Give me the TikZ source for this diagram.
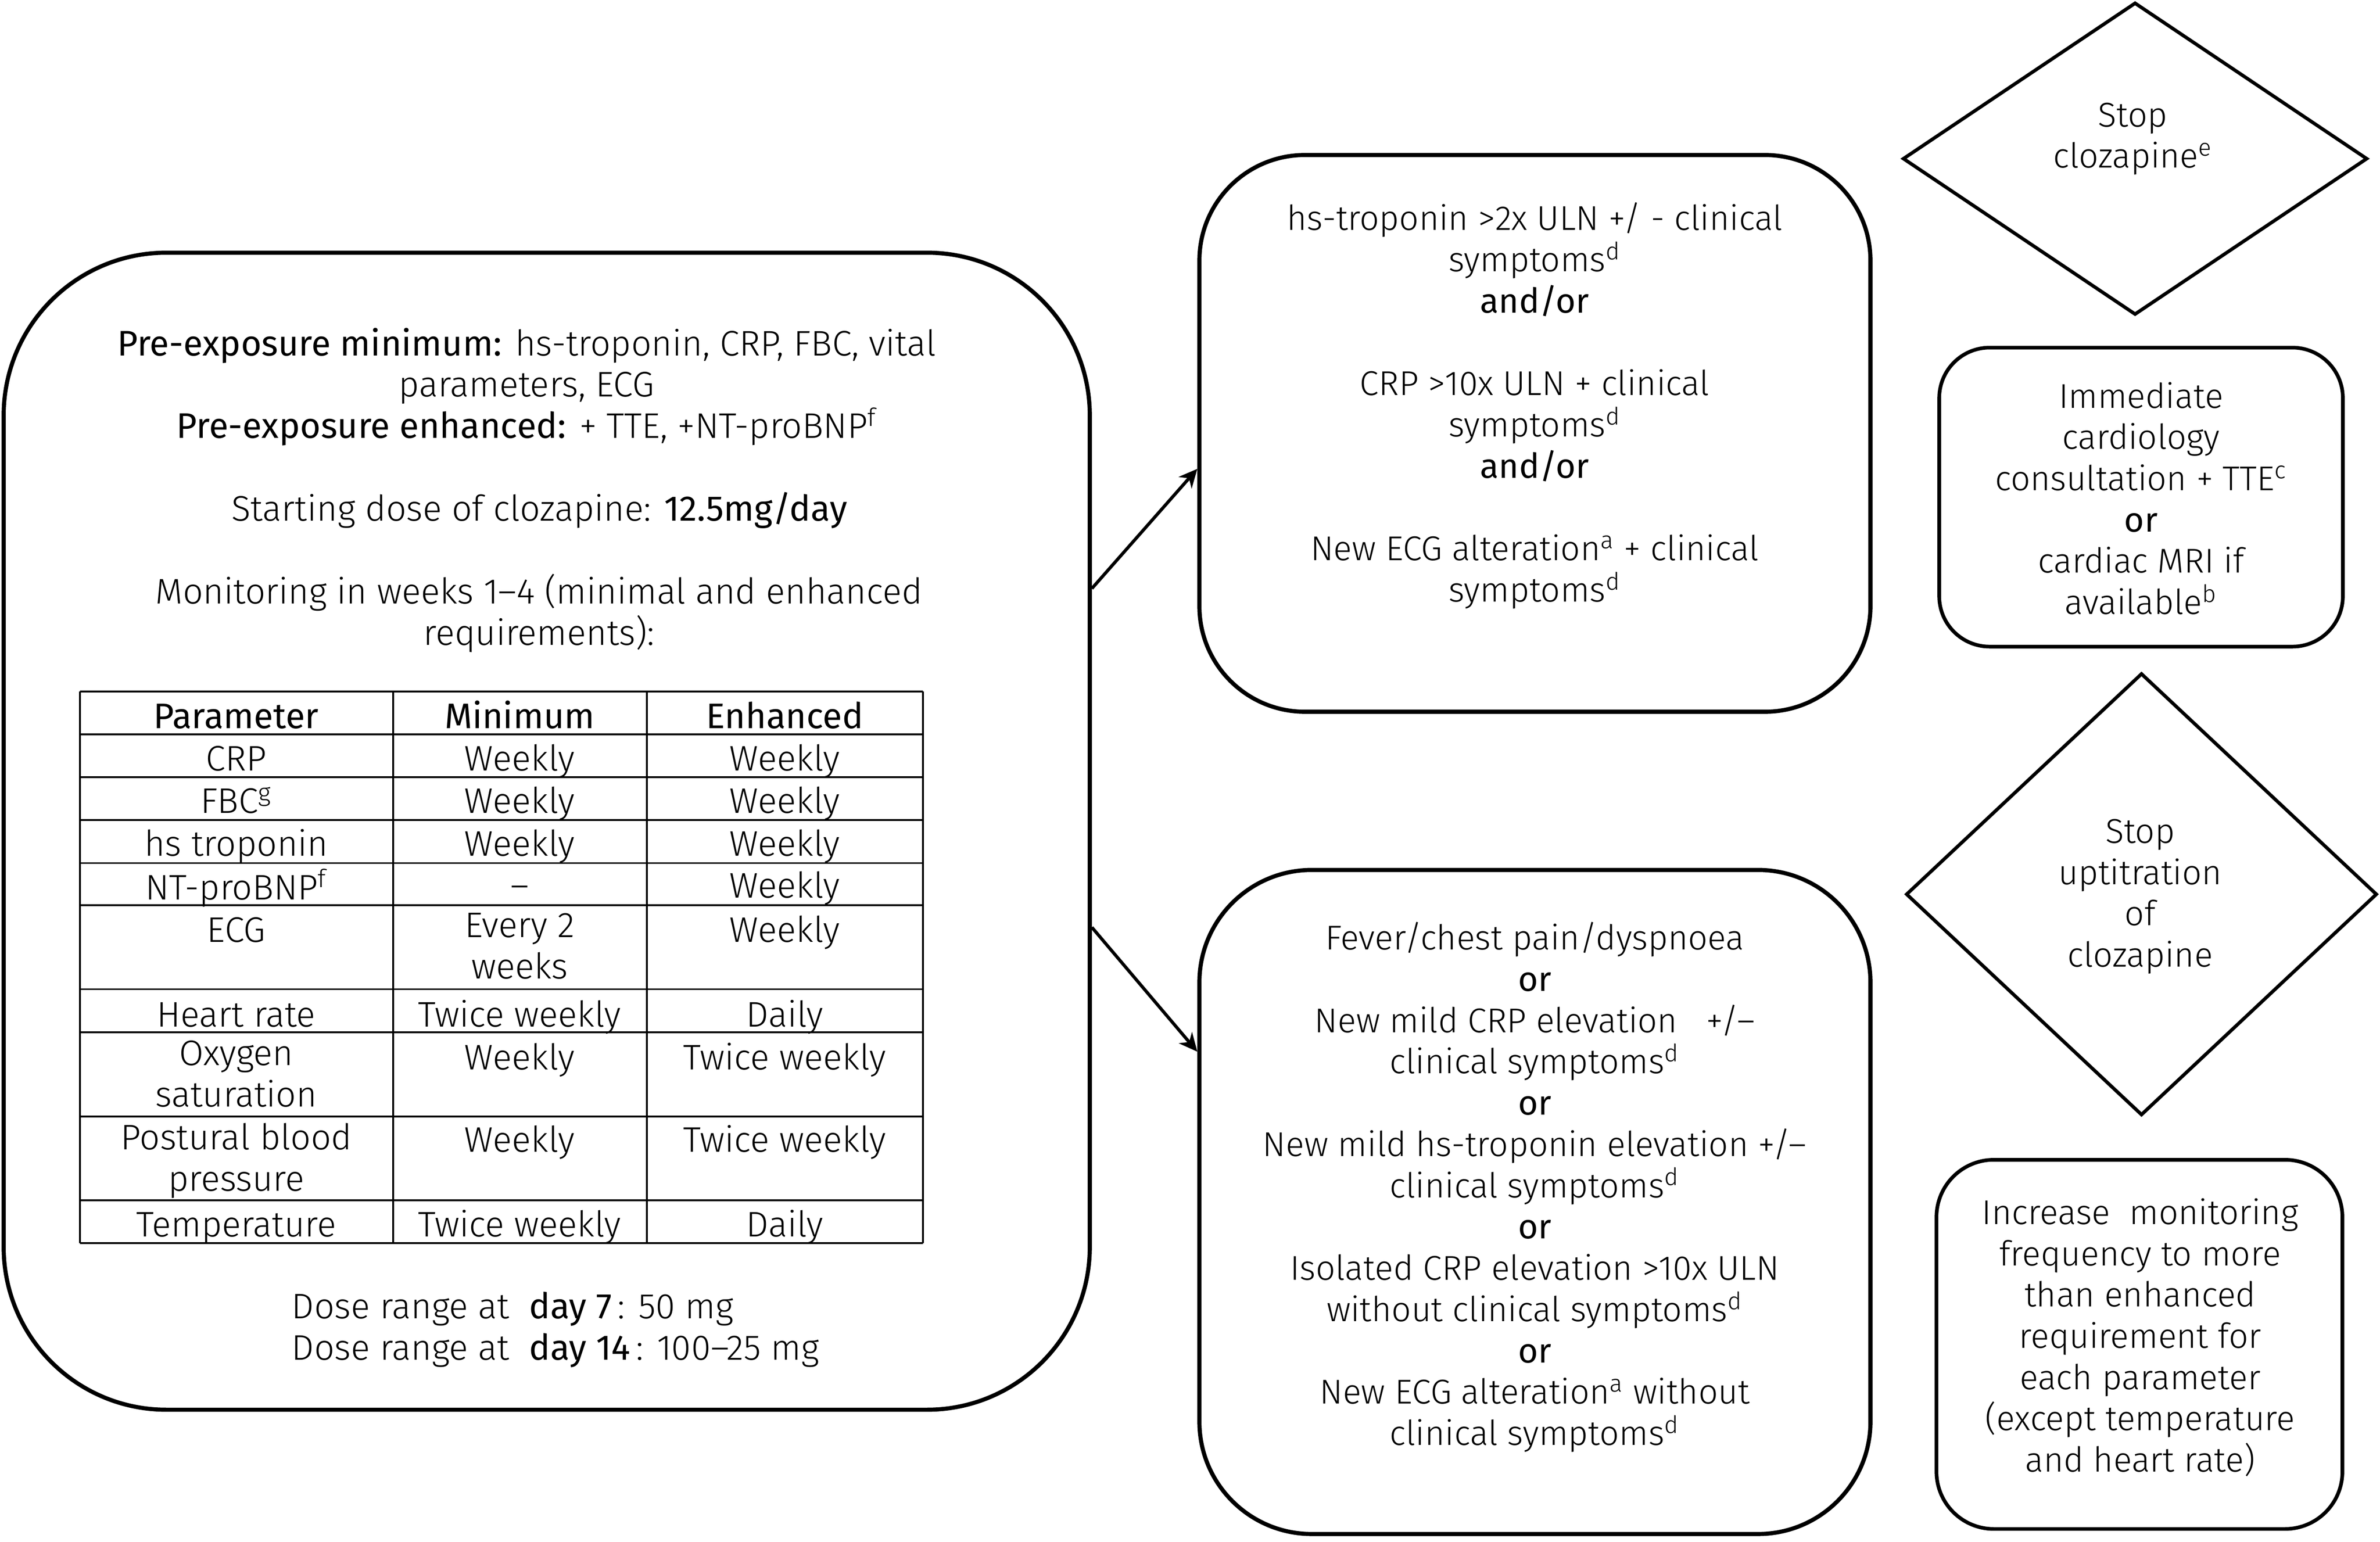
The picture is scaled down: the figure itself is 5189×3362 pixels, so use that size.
\documentclass[tikz,border=0pt]{standalone}
\usepackage{fontspec}
\setmainfont{Fira Sans}[UprightFont=* Light, BoldFont=*]
\usetikzlibrary{shapes.geometric, arrows.meta}
\tikzset{
  box/.style={draw, line width=1.8pt, rounded corners=#1, inner sep=0pt},
  sbox/.style={draw, line width=1.6pt, rounded corners=#1, inner sep=0pt},
  dia/.style={draw, diamond, line width=1.5pt, inner sep=0pt},
  arr/.style={line width=1.4pt, -{Stealth[length=8pt, width=7.5pt, inset=2.5pt]}},
  txt/.style={inner sep=0pt, anchor=north, align=center, yshift=6.4pt,
              execute at begin node=\strut},
  ltxt/.style={txt, font=\fontsize{15.5}{18}\selectfont},
  grid/.style={line width=0.8pt},
}
\begin{document}
\begin{tikzpicture}[x=0.2pt, y=-0.2pt, font=\fontsize{15}{18}\selectfont]
\useasboundingbox (0,0) rectangle (5189,3362);
\fill[white] (0,0) rectangle (5189,3362);

% main box
\node[box=71pt, minimum width=473.6pt, minimum height=504.6pt] (main) at (1192,1812.5) {};
\node[ltxt] (pre) at (1148,746) {\textbf{Pre-exposure minimum:} hs-troponin, CRP, FBC, vital\\parameters, ECG\\\textbf{Pre-exposure enhanced:} + TTE, +NT-proBNP\textsuperscript{f}};
\node[ltxt] (start) at (1176,1104) {Starting dose of clozapine: \textbf{12.5mg/day}};
\node[ltxt] (mon) at (1175,1283) {Monitoring in weeks 1--4 (minimal and enhanced\\requirements):};
\node[ltxt, anchor=north west, align=left] (dose) at (635,2848) {Dose range at \ \textbf{day 7}\,: 50 mg\\Dose range at \ \textbf{day 14}\,: 100--25 mg};

% table
\foreach \yy in {1508,1601,1695,1788,1882,1974,2157,2251,2435,2617,2711}
  \draw[grid] (174,\yy) -- (2012,\yy);
\foreach \xx in {174,857,1410,2012}
  \draw[grid] (\xx,1508) -- (\xx,2711);
\node[ltxt] (h1) at (515,1556) {\textbf{Parameter}};
\node[ltxt] (h2) at (1133,1556) {\textbf{Minimum}};
\node[ltxt] (h3) at (1711,1556) {\textbf{Enhanced}};
\foreach \yy/\pa/\pb/\pc [count=\i] in {
  1649/{CRP}/{Weekly}/{Weekly},
  1741/{FBC\textsuperscript{g}}/{Weekly}/{Weekly},
  1834/{hs troponin}/{Weekly}/{Weekly},
  1926/{NT-proBNP\textsuperscript{f}}/{--}/{Weekly},
  2022/{ECG}/{Every 2\\weeks}/{Weekly},
  2207/{Heart rate}/{Twice weekly}/{Daily},
  2300/{Oxygen\\saturation}/{Weekly}/{Twice weekly},
  2480/{Postural blood\\pressure}/{Weekly}/{Twice weekly},
  2665/{Temperature}/{Twice weekly}/{Daily}} {
  \node[ltxt] (ca\i) at (515,\yy) {\pa};
  \node[ltxt] (cb\i) at (1133,\yy) {\pb};
  \node[ltxt] (cc\i) at (1711,\yy) {\pc};
}

% middle boxes
\node[box=46pt, minimum width=292.6pt, minimum height=242.8pt] (up) at (3346.5,945) {};
\node[txt] (uptxt) at (3346,473) {hs-troponin >2x ULN +/ - clinical\\symptoms\textsuperscript{d}\\\textbf{and/or}\\~\\CRP >10x ULN + clinical\\symptoms\textsuperscript{d}\\\textbf{and/or}\\~\\New ECG alteration\textsuperscript{a} + clinical\\symptoms\textsuperscript{d}};

\node[box=49pt, minimum width=292.6pt, minimum height=289.6pt] (low) at (3346.5,2621) {};
\node[txt] (lowtxt) at (3346,2042) {Fever/chest pain/dyspnoea\\\textbf{or}\\New mild CRP elevation \ \ +/--\\clinical symptoms\textsuperscript{d}\\\textbf{or}\\New mild hs-troponin elevation +/--\\clinical symptoms\textsuperscript{d}\\\textbf{or}\\Isolated CRP elevation >10x ULN\\without clinical symptoms\textsuperscript{d}\\\textbf{or}\\New ECG alteration\textsuperscript{a} without\\clinical symptoms\textsuperscript{d}};

% arrows
\draw[arr] (main.24.3) -- (up.186.94);
\draw[arr] (main.-10.27) -- (low.156.44);

% right column
\node[dia, minimum width=202.6pt, minimum height=136.2pt] (d1) at (4655,346) {};
\node[txt] (d1txt) at (4650,255) {Stop\\clozapine\textsuperscript{e}};

\node[sbox=22pt, minimum width=176pt, minimum height=130.4pt] (imm) at (4668,1084) {};
\node[txt] (immtxt) at (4668,864) {Immediate\\cardiology\\consultation + TTE\textsuperscript{c}\\\textbf{or}\\cardiac MRI if\\available\textsuperscript{b}};

\node[dia, minimum width=205.4pt, minimum height=192.8pt] (d2) at (4669,1950) {};
\node[txt] (d2txt) at (4666,1817) {Stop\\uptitration\\of\\clozapine};

\node[sbox=25pt, minimum width=177pt, minimum height=161pt] (inc) at (4664.5,2931.5) {};
\node[txt] (inctxt) at (4666,2644) {Increase \ monitoring\\frequency to more\\than enhanced\\requirement for\\each parameter\\(except temperature\\and heart rate)};
\end{tikzpicture}
\end{document}
